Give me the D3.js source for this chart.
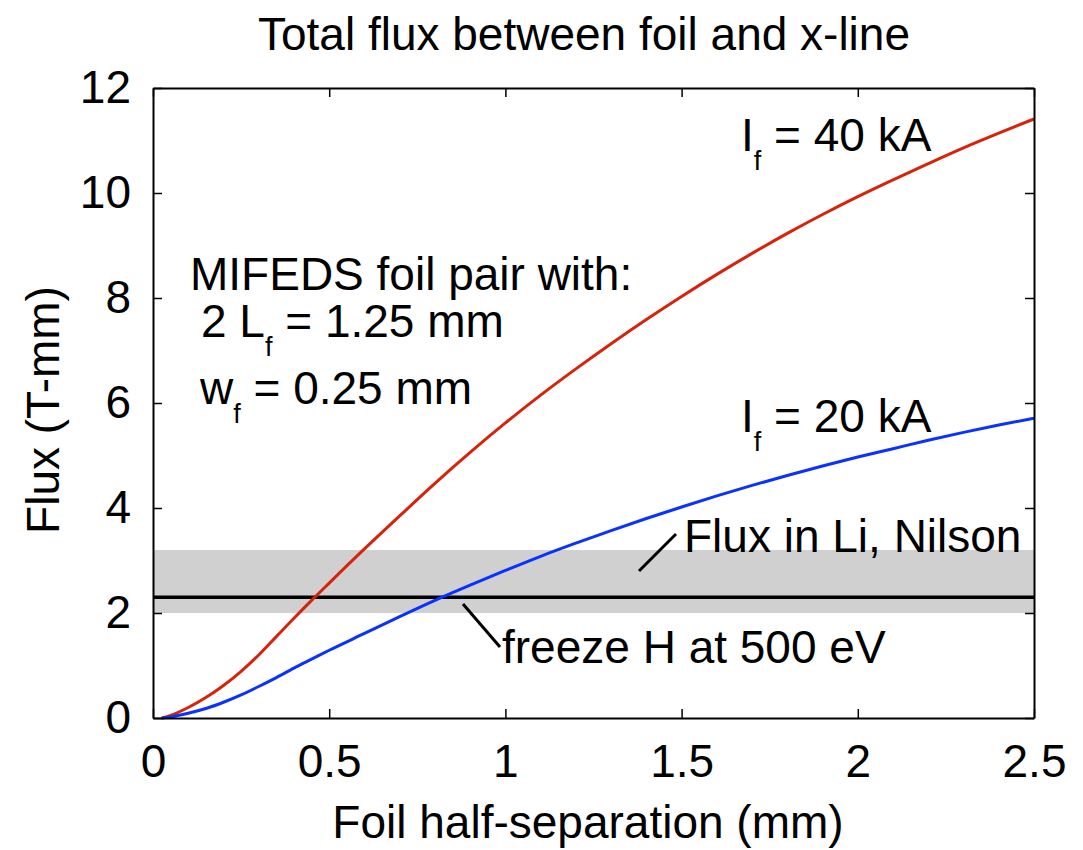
<!DOCTYPE html>
<html>
<head>
<meta charset="utf-8">
<script src="https://cdn.jsdelivr.net/npm/d3@7"></script>
<style>
  body { margin: 0; background: #fff; }
  svg { display: block; }
  text { font-family: "Liberation Sans", Arial, Helvetica, sans-serif; fill: #000; }
</style>
</head>
<body>
<svg width="1083" height="850"></svg>
<script>
// foil half-separation (mm)
const sep = [0.025, 0.05, 0.1, 0.15, 0.2, 0.25, 0.3, 0.35, 0.4, 0.45, 0.5,
  0.6, 0.7, 0.8, 0.9, 1.0, 1.1, 1.2, 1.3, 1.4, 1.5, 1.6, 1.7, 1.8, 1.9,
  2.0, 2.1, 2.2, 2.3, 2.4, 2.5];
// flux (T-mm), If = 40 kA
const flux40 = [0, 0.05, 0.2, 0.39, 0.62, 0.89, 1.2, 1.55, 1.9, 2.24, 2.57,
  3.22, 3.85, 4.47, 5.06, 5.62, 6.15, 6.65, 7.13, 7.59, 8.03, 8.45, 8.85, 9.23, 9.59,
  9.93, 10.25, 10.56, 10.86, 11.14, 11.41];
// flux (T-mm), If = 20 kA
const flux20 = [0, 0.02, 0.09, 0.18, 0.3, 0.44, 0.6, 0.77, 0.95, 1.12, 1.29,
  1.61, 1.93, 2.24, 2.53, 2.81, 3.08, 3.33, 3.57, 3.8, 4.02, 4.23, 4.43, 4.62, 4.8,
  4.97, 5.13, 5.29, 5.44, 5.58, 5.71];

const bandRange = [2.0, 3.2];   // flux in Li, Nilson
const freezeFlux = 2.3;         // freeze H at 500 eV
const xTicks = [0, 0.5, 1, 1.5, 2, 2.5];
const yTicks = [0, 2, 4, 6, 8, 10, 12];

const svg = d3.select("svg");
const mLeft = 153, mRight = 1034, mTop = 88, mBottom = 718;
const fs = 46;

const x = d3.scaleLinear().domain([0, 2.5]).range([mLeft, mRight]);
const y = d3.scaleLinear().domain([0, 12]).range([mBottom, mTop]);

// band + freeze line
svg.append("rect")
  .attr("x", x(0)).attr("width", x(2.5) - x(0))
  .attr("y", y(bandRange[1])).attr("height", y(bandRange[0]) - y(bandRange[1]))
  .attr("fill", "#d0d0d0");

svg.append("line")
  .attr("x1", x(0)).attr("x2", x(2.5))
  .attr("y1", y(freezeFlux)).attr("y2", y(freezeFlux))
  .attr("stroke", "#000").attr("stroke-width", 3.5);

// curves
const line = d3.line()
  .x((d, i) => x(sep[i]))
  .y(d => y(d))
  .curve(d3.curveMonotoneX);

svg.append("path").datum(flux40)
  .attr("d", line).attr("fill", "none")
  .attr("stroke", "#d6230a").attr("stroke-width", 3);

svg.append("path").datum(flux20)
  .attr("d", line).attr("fill", "none")
  .attr("stroke", "#0a32ff").attr("stroke-width", 3);

// axes box
const tickLen = 9;
function styleAxis(g) {
  g.selectAll("path").attr("stroke", "#000").attr("stroke-width", 2);
  g.selectAll("line").attr("stroke", "#000").attr("stroke-width", 1.5);
  g.selectAll("text").attr("font-size", fs).attr("font-family", null);
}

svg.append("g").attr("transform", `translate(0,${mBottom})`)
  .call(d3.axisBottom(x).tickValues(xTicks).tickSizeInner(-tickLen).tickSizeOuter(0)
    .tickPadding(26).tickFormat(d3.format("")))
  .call(styleAxis);

svg.append("g").attr("transform", `translate(0,${mTop})`)
  .call(d3.axisTop(x).tickValues(xTicks).tickSizeInner(-tickLen).tickSizeOuter(0).tickFormat(""))
  .call(styleAxis);

svg.append("g").attr("transform", `translate(${mLeft},0)`)
  .call(d3.axisLeft(y).tickValues(yTicks).tickSizeInner(-tickLen).tickSizeOuter(0)
    .tickPadding(13 + tickLen))
  .call(styleAxis);

svg.append("g").attr("transform", `translate(${mRight},0)`)
  .call(d3.axisRight(y).tickValues(yTicks).tickSizeInner(-tickLen).tickSizeOuter(0).tickFormat(""))
  .call(styleAxis);

svg.selectAll(".domain").attr("stroke", "#000").attr("stroke-width", 2);

// titles
svg.append("text").attr("x", 584).attr("y", 50)
  .attr("text-anchor", "middle").attr("font-size", fs)
  .text("Total flux between foil and x-line");

svg.append("text").attr("x", 588).attr("y", 838)
  .attr("text-anchor", "middle").attr("font-size", fs)
  .text("Foil half-separation (mm)");

svg.append("text")
  .attr("transform", "translate(59,410) rotate(-90)")
  .attr("text-anchor", "middle").attr("font-size", fs)
  .text("Flux (T-mm)");

// annotations with subscript f
function subLabel(px, py, before, after) {
  const t = svg.append("text").attr("x", px).attr("y", py).attr("font-size", fs);
  t.append("tspan").text(before);
  t.append("tspan").attr("font-size", 27).attr("dy", 19).text("f");
  t.append("tspan").attr("dy", -19).text(after);
}

subLabel(741, 151, "I", " = 40 kA");
subLabel(741, 432, "I", " = 20 kA");

svg.append("text").attr("x", 190).attr("y", 290).attr("font-size", fs)
  .text("MIFEDS foil pair with:");
subLabel(201, 337, "2 L", " = 1.25 mm");
subLabel(200, 404, "w", " = 0.25 mm");

svg.append("text").attr("x", 684).attr("y", 552).attr("font-size", fs)
  .text("Flux in Li, Nilson");
svg.append("text").attr("x", 502).attr("y", 663).attr("font-size", fs)
  .text("freeze H at 500 eV");

// leader lines
svg.append("line").attr("x1", 639).attr("y1", 571).attr("x2", 676).attr("y2", 534)
  .attr("stroke", "#000").attr("stroke-width", 3);
svg.append("line").attr("x1", 463).attr("y1", 604).attr("x2", 500).attr("y2", 647)
  .attr("stroke", "#000").attr("stroke-width", 3);
</script>
</body>
</html>
